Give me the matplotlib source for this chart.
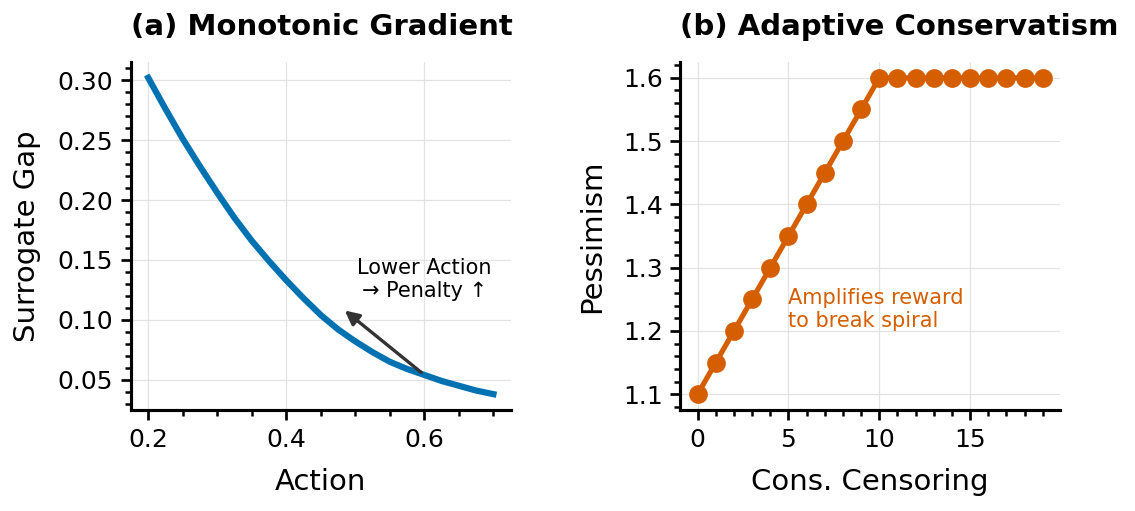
import matplotlib.pyplot as plt
import numpy as np

# panel (a): surrogate gap
action = [0.200, 0.225, 0.250, 0.275, 0.300, 0.325, 0.350, 0.375, 0.400, 0.425,
          0.450, 0.475, 0.500, 0.525, 0.550, 0.575, 0.600, 0.625, 0.650, 0.675, 0.700]
gap = [0.302, 0.276, 0.251, 0.228, 0.206, 0.185, 0.166, 0.149, 0.133, 0.118,
       0.104, 0.092, 0.082, 0.073, 0.065, 0.059, 0.054, 0.049, 0.045, 0.041, 0.038]

# panel (b): pessimism vs consecutive censoring
censoring = list(range(20))
pessimism = [1.10, 1.15, 1.20, 1.25, 1.30, 1.35, 1.40, 1.45, 1.50, 1.55,
             1.60, 1.60, 1.60, 1.60, 1.60, 1.60, 1.60, 1.60, 1.60, 1.60]

blue = '#0072B2'
orange = '#D55E00'

fig, (ax1, ax2) = plt.subplots(1, 2, figsize=(1135/150, 511/150), dpi=150)
fig.subplots_adjust(left=0.1154, right=0.934, bottom=0.1977, top=0.8787, wspace=0.447)

for ax in (ax1, ax2):
    ax.spines['top'].set_visible(False)
    ax.spines['right'].set_visible(False)
    ax.spines['left'].set_linewidth(1.5)
    ax.spines['bottom'].set_linewidth(1.5)
    ax.minorticks_on()
    ax.tick_params(which='major', labelsize=12, length=5, width=1.3)
    ax.tick_params(which='minor', length=3, width=1.2)
    ax.grid(True, which='major', color='#dddddd', linewidth=0.6, alpha=0.8)
    ax.set_axisbelow(True)

ax1.plot(action, gap, color=blue, linewidth=3.0, solid_joinstyle='round')
ax1.set_xlabel('Action', fontsize=14, labelpad=8)
ax1.set_ylabel('Surrogate Gap', fontsize=14, labelpad=8)
ax1.set_title('(a) Monotonic Gradient', fontsize=14, fontweight='bold', pad=13, loc='left')
ax1.set_xticks([0.2, 0.4, 0.6])
ax1.annotate('', xy=(0.48, 0.11), xytext=(0.6, 0.054),
             arrowprops=dict(arrowstyle='-|>', color='#333333', lw=1.6, mutation_scale=14))
ax1.text(0.6, 0.134, 'Lower Action\n→ Penalty ↑', ha='center', va='center', fontsize=10)

ax2.plot(censoring, pessimism, color=orange, linewidth=2.5, marker='o', markersize=8)
ax2.set_xlabel('Cons. Censoring', fontsize=14, labelpad=8)
ax2.set_ylabel('Pessimism', fontsize=14, labelpad=8)
ax2.set_title('(b) Adaptive Conservatism', fontsize=14, fontweight='bold', pad=13, loc='left')
ax2.set_xticks([0, 5, 10, 15])
ax2.text(5, 1.234, 'Amplifies reward\nto break spiral', ha='left', va='center',
         fontsize=10, color=orange)

plt.savefig('out.png', dpi=150)
